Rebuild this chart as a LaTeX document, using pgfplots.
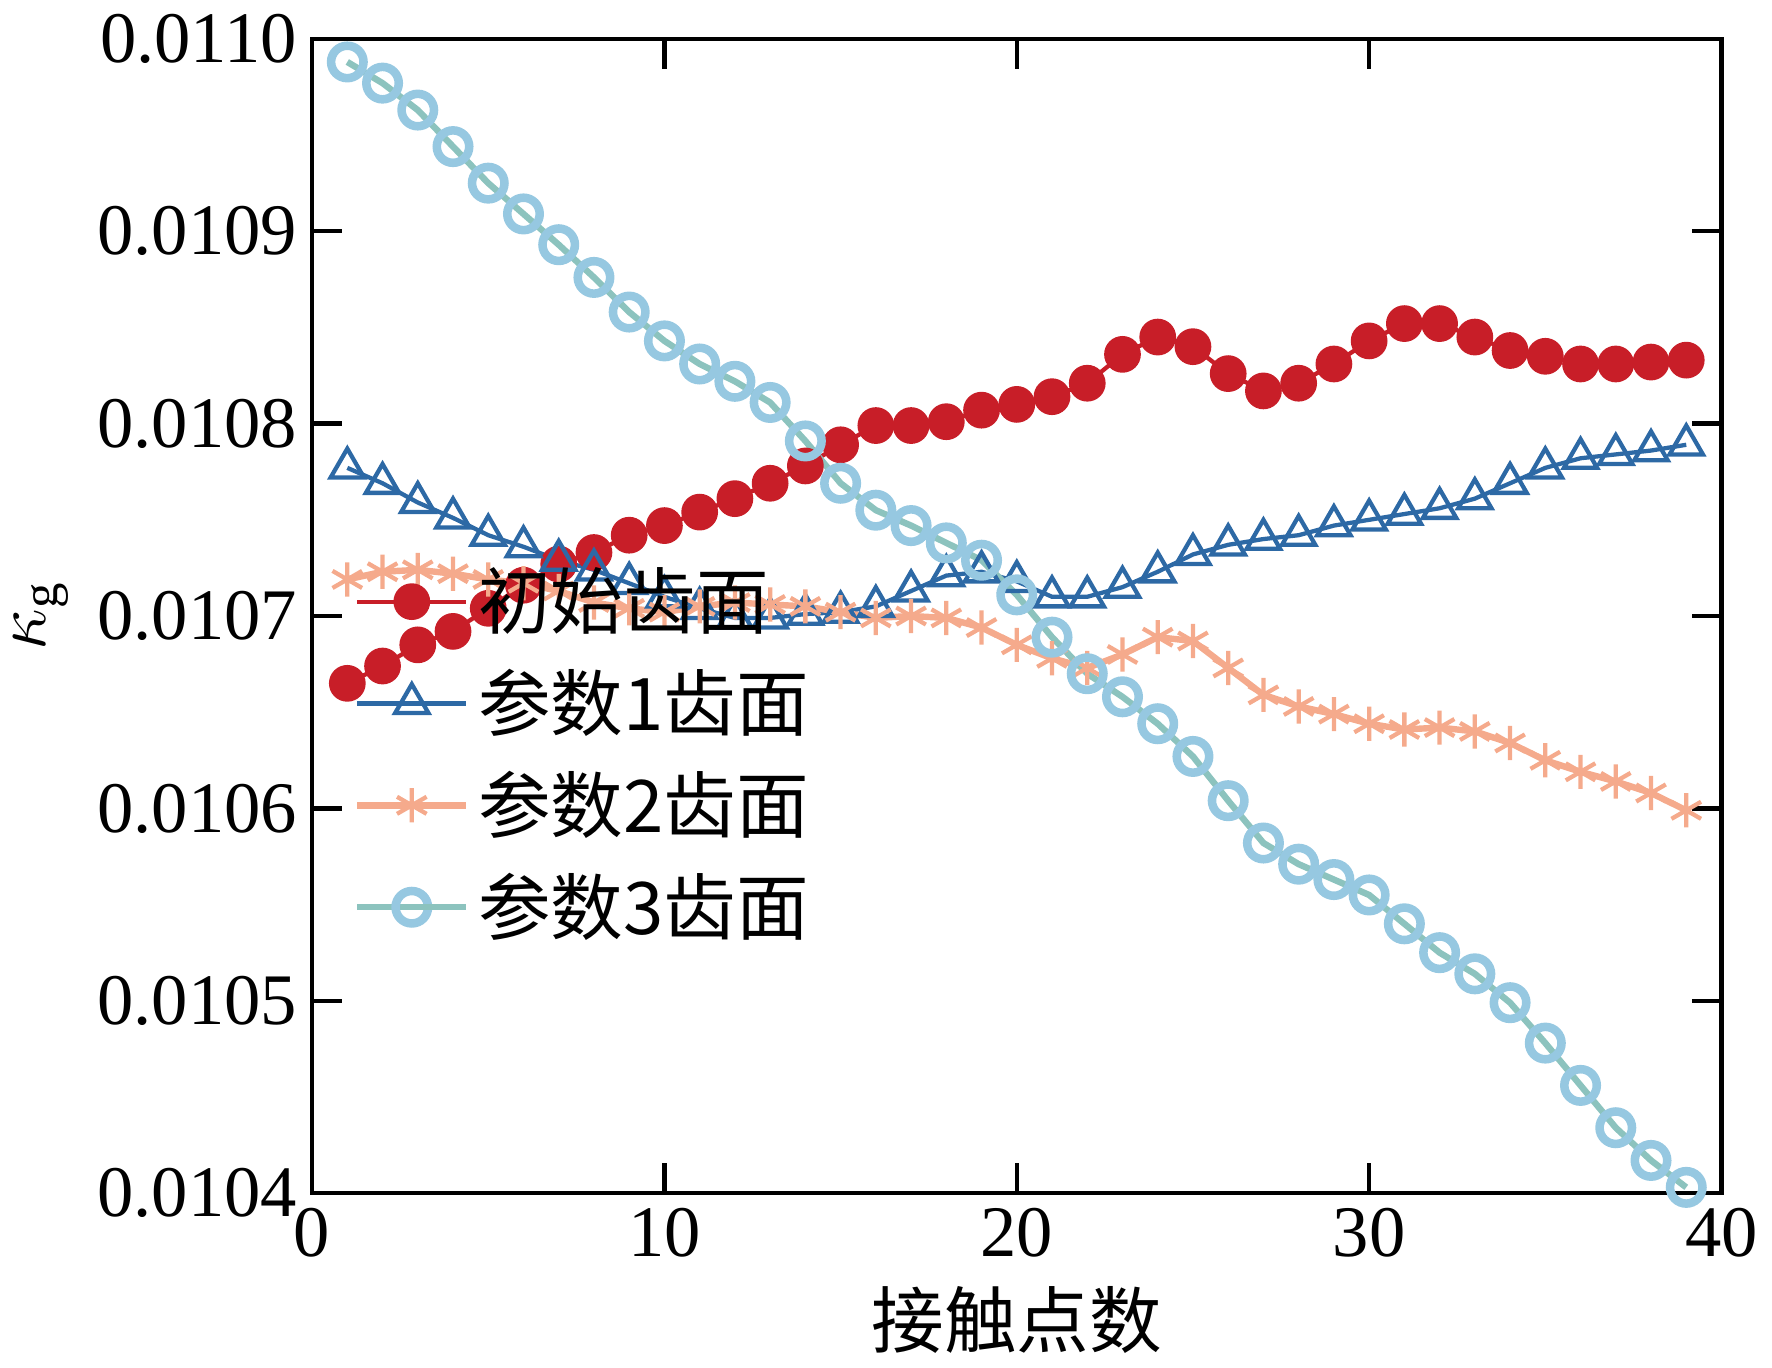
\documentclass[border=0pt]{standalone}
\usepackage{pgfplots}
\pgfplotsset{compat=1.18}
\usepackage{fontspec}
\setmainfont{Liberation Serif}
\newfontfamily\cjk{Noto Sans CJK SC}
\definecolor{cr}{RGB}{200,30,40}
\definecolor{cb}{RGB}{45,105,165}
\definecolor{co}{RGB}{245,170,140}
\definecolor{cl}{RGB}{150,200,225}
\definecolor{clg}{RGB}{140,195,190}
\begin{document}
\begin{tikzpicture}
\begin{axis}[
 width=11.6cm,height=9.5cm,scale only axis,
 xmin=0,xmax=40,ymin=0.0104,ymax=0.0110,
 xtick={0,10,20,30,40},
 ytick={0.0104,0.0105,0.0106,0.0107,0.0108,0.0109,0.0110},
 yticklabel style={/pgf/number format/fixed,/pgf/number format/fixed zerofill,/pgf/number format/precision=4},
 scaled y ticks=false,
 /pgf/number format/assume math mode=true,
 tick align=inside, tick pos=both, major tick length=7pt,
 every tick/.style={line width=1pt,black},
 axis line style={line width=1pt},
 ticklabel style={font=\fontsize{17pt}{20pt}\selectfont},
 xlabel={\cjk\fontsize{17pt}{20pt}\selectfont 接触点数},
 ylabel={\fontsize{17pt}{20pt}\selectfont $\kappa_{\mathrm{g}}$},
 legend style={draw=none,fill=none,at={(0.02,0.38)},anchor=west,font=\cjk\fontsize{17pt}{20pt}\selectfont,row sep=4pt},
 legend cell align=left,
 legend image code/.code={\draw[#1] (0cm,0cm) -- (0.45cm,0cm); \draw[#1,mark repeat=2,mark phase=2] plot coordinates {(0cm,0cm)(0.45cm,0cm)(0.9cm,0cm)}; \draw[#1,mark=none] (0.45cm,0cm)--(0.9cm,0cm);},
]
\addplot[cr,line width=1pt,mark=*,mark size=3.8pt,mark options={fill=cr}] coordinates {
(1,0.010665)(2,0.010674)(3,0.010685)(4,0.010692)(5,0.010704)(6,0.010716)(7,0.010727)(8,0.010733)(9,0.010742)(10,0.010747)(11,0.010754)(12,0.010761)(13,0.010769)(14,0.010778)(15,0.010789)(16,0.010799)(17,0.010799)(18,0.010801)(19,0.010807)(20,0.010810)(21,0.010814)(22,0.010821)(23,0.010836)(24,0.010845)(25,0.010840)(26,0.010826)(27,0.010817)(28,0.010821)(29,0.010831)(30,0.010843)(31,0.010852)(32,0.010852)(33,0.010845)(34,0.010838)(35,0.010835)(36,0.010831)(37,0.010831)(38,0.010832)(39,0.010833)};
\addlegendentry{初始齿面}
\addplot[cb,line width=1pt,mark=triangle,mark size=4.5pt,mark options={fill=none,line width=1pt}] coordinates {
(1,0.010777)(2,0.010769)(3,0.010759)(4,0.010751)(5,0.010742)(6,0.010736)(7,0.010729)(8,0.010724)(9,0.010717)(10,0.010710)(11,0.010704)(12,0.010699)(13,0.010699)(14,0.010701)(15,0.010702)(16,0.010705)(17,0.010713)(18,0.010721)(19,0.010723)(20,0.010718)(21,0.010710)(22,0.010710)(23,0.010715)(24,0.010723)(25,0.010732)(26,0.010737)(27,0.010740)(28,0.010742)(29,0.010747)(30,0.010750)(31,0.010753)(32,0.010756)(33,0.010761)(34,0.010769)(35,0.010777)(36,0.010782)(37,0.010784)(38,0.010786)(39,0.010789)};
\addlegendentry{参数1齿面}
\addplot[co,line width=1.5pt,mark=asterisk,mark size=4pt,mark options={line width=1pt}] coordinates {
(1,0.010719)(2,0.010723)(3,0.010724)(4,0.010722)(5,0.010719)(6,0.010717)(7,0.010713)(8,0.010707)(9,0.010704)(10,0.010702)(11,0.010705)(12,0.010707)(13,0.010706)(14,0.010705)(15,0.010702)(16,0.010699)(17,0.010700)(18,0.010699)(19,0.010694)(20,0.010685)(21,0.010678)(22,0.010673)(23,0.010680)(24,0.010689)(25,0.010687)(26,0.010673)(27,0.010659)(28,0.010653)(29,0.010649)(30,0.010644)(31,0.010641)(32,0.010642)(33,0.010640)(34,0.010634)(35,0.010625)(36,0.010619)(37,0.010614)(38,0.010608)(39,0.010599)};
\addlegendentry{参数2齿面}
\addplot[clg,line width=1.5pt,mark=o,mark size=3.8pt,mark options={draw=cl,line width=2pt}] coordinates {
(1,0.010988)(2,0.010977)(3,0.010963)(4,0.010944)(5,0.010925)(6,0.010909)(7,0.010893)(8,0.010876)(9,0.010858)(10,0.010843)(11,0.010831)(12,0.010822)(13,0.010811)(14,0.010791)(15,0.010769)(16,0.010755)(17,0.010747)(18,0.010738)(19,0.010729)(20,0.010711)(21,0.010689)(22,0.010670)(23,0.010658)(24,0.010644)(25,0.010627)(26,0.010604)(27,0.010582)(28,0.010571)(29,0.010563)(30,0.010555)(31,0.010540)(32,0.010525)(33,0.010514)(34,0.010499)(35,0.010478)(36,0.010456)(37,0.010434)(38,0.010417)(39,0.010403)};
\addlegendentry{参数3齿面}
\end{axis}
\end{tikzpicture}
\end{document}
